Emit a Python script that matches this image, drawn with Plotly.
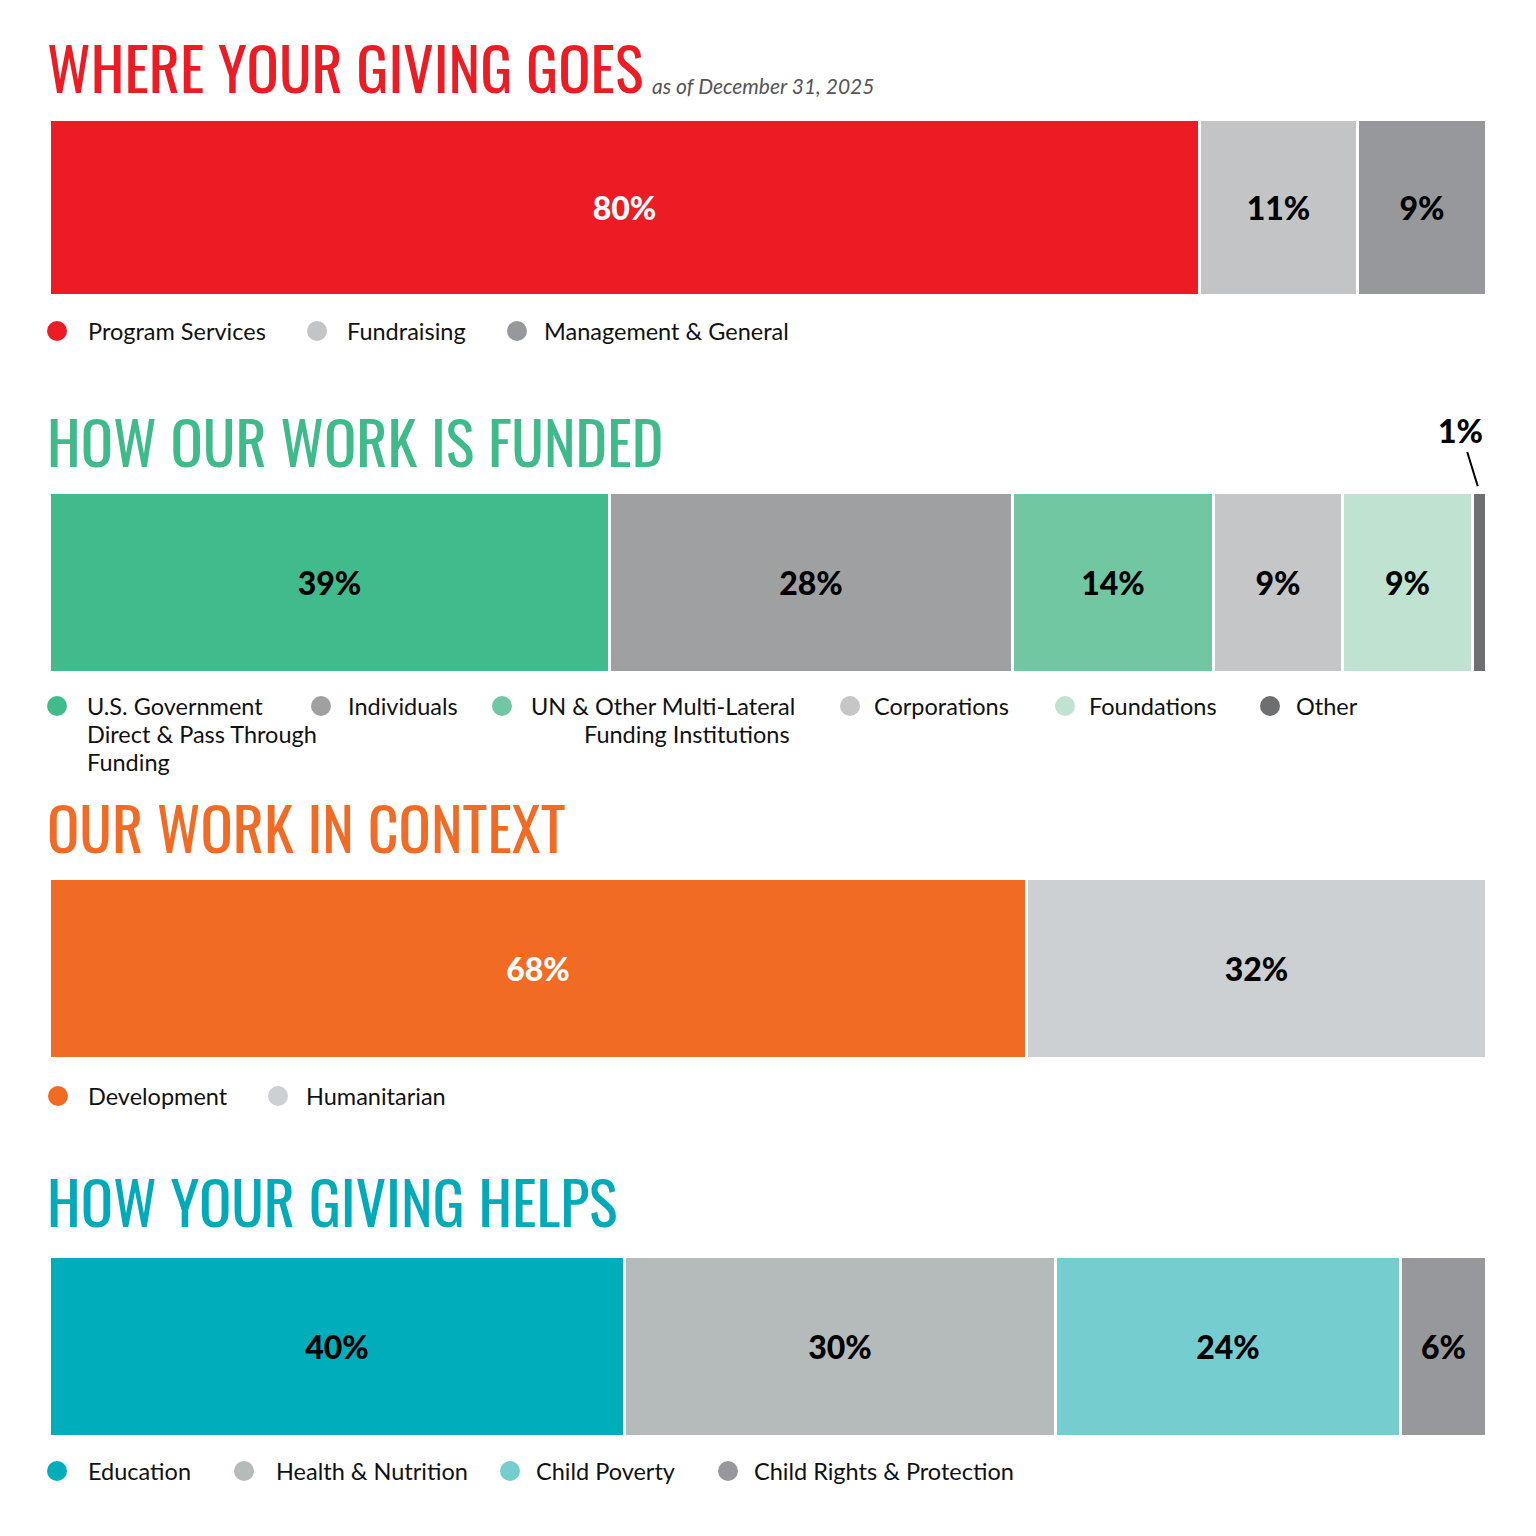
import plotly.graph_objects as go

# page body has an 8px margin; figure sized to fit the 1536 window exactly
OFF = 8
W = H = 1536 - 2 * OFF

# ---------------- data ----------------
titles = ["WHERE YOUR GIVING GOES", "HOW OUR WORK IS FUNDED", "OUR WORK IN CONTEXT", "HOW YOUR GIVING HELPS"]
title_colors = ["#ED1C24", "#3EBA8B", "#F26B24", "#00AAB9"]
subtitle = "as of December 31, 2025"

goes_labels = ["Program Services", "Fundraising", "Management & General"]
goes_values = [80, 11, 9]
goes_colors = ["#ED1C24", "#C3C4C6", "#97989B"]
goes_text_colors = ["white", "black", "black"]

funded_labels = ["U.S. Government<br>Direct & Pass Through<br>Funding", "Individuals",
                 "UN & Other Multi-Lateral<br>Funding Institutions", "Corporations", "Foundations", "Other"]
funded_values = [39, 28, 14, 9, 9, 1]
funded_colors = ["#42BB8C", "#9FA0A2", "#72C7A3", "#C5C6C8", "#BFE3D0", "#6E6F71"]
funded_text_colors = ["black"] * 6

context_labels = ["Development", "Humanitarian"]
context_values = [68, 32]
context_colors = ["#F26B24", "#CDD0D3"]
context_text_colors = ["white", "black"]

helps_labels = ["Education", "Health & Nutrition", "Child Poverty", "Child Rights & Protection"]
helps_values = [40, 30, 24, 6]
helps_colors = ["#00ADBB", "#B5BABA", "#76CDD0", "#97989B"]
helps_text_colors = ["black"] * 4

sections = [
    (goes_labels, goes_values, goes_colors, goes_text_colors),
    (funded_labels, funded_values, funded_colors, funded_text_colors),
    (context_labels, context_values, context_colors, context_text_colors),
    (helps_labels, helps_values, helps_colors, helps_text_colors),
]

# ---------------- layout (reference pixel positions) ----------------
def px(x):
    return (x - OFF) / W

def py(y):
    return 1 - (y - OFF) / H

bar_tops = [120, 493, 879, 1257]
bar_bottoms = [296, 673, 1059, 1437]
title_mid = [66, 439, 825, 1199]
legend_y = [331, 706, 1096, 1471]
legend_circle_x = [[57, 317, 517], [57, 321, 502, 850, 1065, 1270], [58, 278], [57, 244, 510, 728]]
legend_text_x = [[86, 345, 542], [85, 346, 529, 872, 1087, 1294], [86, 304], [86, 274, 534, 752]]
# wrapped legend lines that are indented differently from the first line
line_indent = {("UN & Other Multi-Lateral<br>Funding Institutions", 1): 582}
LINE_H = 28

BODY = "Lato, 'Open Sans', sans-serif"
TITLE = "Oswald, 'Roboto Condensed', 'Liberation Sans Narrow', Roboto, sans-serif"

fig = go.Figure()
annotations = []
shapes = []
layout_axes = {}

for i, (labels, values, colors, tcolors) in enumerate(sections):
    n = i + 1
    xa = "x" if n == 1 else f"x{n}"
    ya = "y" if n == 1 else f"y{n}"
    for lab, v, c, tc in zip(labels, values, colors, tcolors):
        small = v < 3
        fig.add_trace(go.Bar(
            x=[v], y=[0], orientation="h", width=1,
            marker=dict(color=c, line=dict(color="white", width=3)),
            text=[f"{v}%" if not small else ""],
            textposition="none" if small else "inside",
            insidetextanchor="middle", textangle=0,
            textfont=dict(family=BODY, size=32, color=tc, weight=900),
            name=lab.replace("<br>", " "), showlegend=False,
            xaxis=xa, yaxis=ya, hoverinfo="name+x",
        ))
        if small:
            cum = sum(values[:labels.index(lab)]) + v / 2
            annotations.append(dict(
                x=cum, y=0.5, xref=xa, yref=ya, text=f"{v}%", showarrow=True,
                arrowhead=0, arrowwidth=2, arrowcolor="black", ax=-19, ay=-62, standoff=7,
                font=dict(family=BODY, size=32, color="black", weight=900),
            ))
    kx = "xaxis" if n == 1 else f"xaxis{n}"
    ky = "yaxis" if n == 1 else f"yaxis{n}"
    layout_axes[kx] = dict(domain=[px(50), px(1487)], range=[0, 100], visible=False,
                           anchor=ya, fixedrange=True)
    layout_axes[ky] = dict(domain=[py(bar_bottoms[i]), py(bar_tops[i])], range=[-0.5, 0.5],
                           visible=False, anchor=xa, fixedrange=True)

    # title
    annotations.append(dict(
        x=px(45), y=py(title_mid[i]), xref="paper", yref="paper", xanchor="left", yanchor="middle",
        text=titles[i], showarrow=False,
        font=dict(family=TITLE, size=60, color=title_colors[i], weight=400),
    ))

    # legend
    for lab, c, cx, tx in zip(labels, colors, legend_circle_x[i], legend_text_x[i]):
        r = 10
        shapes.append(dict(type="circle", xref="paper", yref="paper",
                           x0=px(cx - r), x1=px(cx + r), y0=py(legend_y[i] + r), y1=py(legend_y[i] - r),
                           fillcolor=c, line=dict(width=0)))
        for k, line in enumerate(lab.split("<br>")):
            lx = line_indent.get((lab, k), tx)
            annotations.append(dict(
                x=px(lx), y=py(legend_y[i] + k * LINE_H), xref="paper", yref="paper",
                xanchor="left", yanchor="middle",
                text=line, showarrow=False,
                font=dict(family=BODY, size=23.5, color="#111111"),
            ))

annotations.append(dict(
    x=px(650), y=py(86), xref="paper", yref="paper", xanchor="left", yanchor="middle",
    text=subtitle, showarrow=False,
    font=dict(family=BODY, size=21, color="#555555", style="italic"),
))

fig.update_layout(
    width=W, height=H, margin=dict(l=0, r=0, t=0, b=0),
    paper_bgcolor="white", plot_bgcolor="white",
    barmode="stack", bargap=0, showlegend=False,
    annotations=annotations, shapes=shapes,
    **layout_axes,
)

fig.write_html("out.html")
